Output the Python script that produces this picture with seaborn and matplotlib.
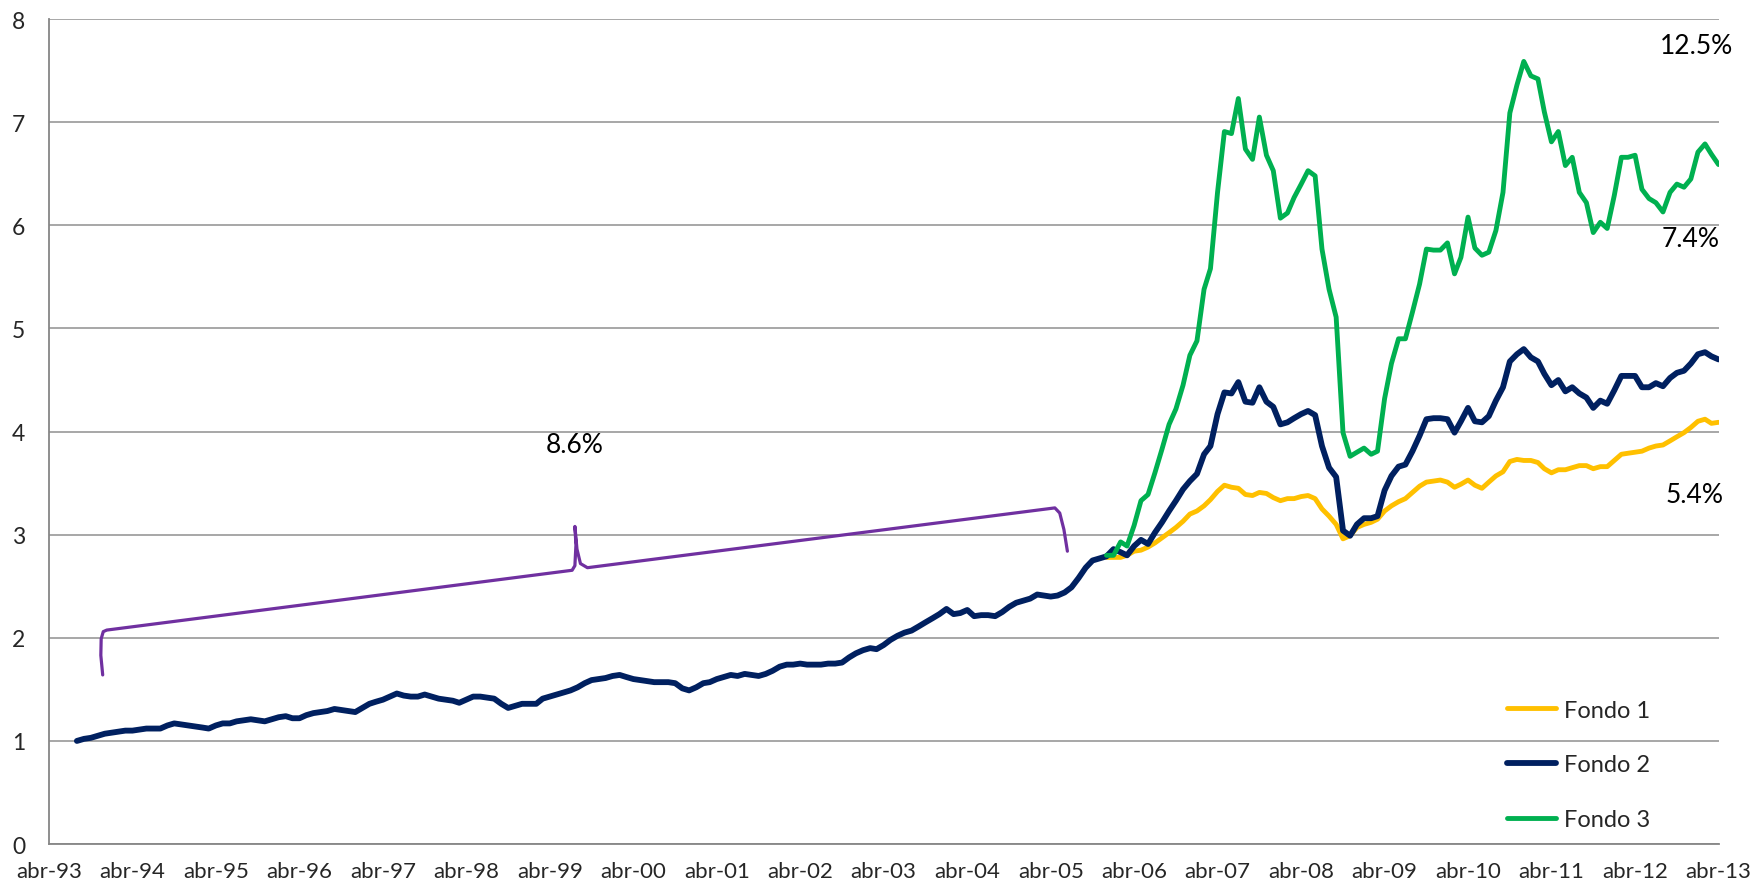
import pandas as pd
import matplotlib
matplotlib.use("Agg")
import matplotlib.pyplot as plt
import matplotlib.dates as mdates
import seaborn as sns

# ================================
# DATA (monthly)
# ================================
axis_start = "1993-04-01"          # abr-93, left edge of the chart

fondo2_start = "1993-08-01"
fondo2 = [
    1.00, 1.02, 1.03, 1.05, 1.07,                                            # 1993
    1.08, 1.09, 1.10, 1.10, 1.11, 1.12, 1.12, 1.12, 1.15, 1.17, 1.16, 1.15,  # 1994
    1.14, 1.13, 1.12, 1.15, 1.17, 1.17, 1.19, 1.20, 1.21, 1.20, 1.19, 1.21,  # 1995
    1.23, 1.24, 1.22, 1.22, 1.25, 1.27, 1.28, 1.29, 1.31, 1.30, 1.29, 1.28,  # 1996
    1.32, 1.36, 1.38, 1.40, 1.43, 1.46, 1.44, 1.43, 1.43, 1.45, 1.43, 1.41,  # 1997
    1.40, 1.39, 1.37, 1.40, 1.43, 1.43, 1.42, 1.41, 1.36, 1.32, 1.34, 1.36,  # 1998
    1.36, 1.36, 1.41, 1.43, 1.45, 1.47, 1.49, 1.52, 1.56, 1.59, 1.60, 1.61,  # 1999
    1.63, 1.64, 1.62, 1.60, 1.59, 1.58, 1.57, 1.57, 1.57, 1.56, 1.51, 1.49,  # 2000
    1.52, 1.56, 1.57, 1.60, 1.62, 1.64, 1.63, 1.65, 1.64, 1.63, 1.65, 1.68,  # 2001
    1.72, 1.74, 1.74, 1.75, 1.74, 1.74, 1.74, 1.75, 1.75, 1.76, 1.81, 1.85,  # 2002
    1.88, 1.90, 1.89, 1.93, 1.98, 2.02, 2.05, 2.07, 2.11, 2.15, 2.19, 2.23,  # 2003
    2.28, 2.23, 2.24, 2.27, 2.21, 2.22, 2.22, 2.21, 2.25, 2.30, 2.34, 2.36,  # 2004
    2.38, 2.42, 2.41, 2.40, 2.41, 2.44, 2.49, 2.58, 2.68, 2.75, 2.77, 2.79,  # 2005
    2.86, 2.83, 2.80, 2.89, 2.95, 2.91, 3.02, 3.12, 3.23, 3.33, 3.44, 3.52,  # 2006
    3.59, 3.78, 3.86, 4.17, 4.38, 4.37, 4.48, 4.29, 4.28, 4.43, 4.29, 4.24,  # 2007
    4.07, 4.09, 4.13, 4.17, 4.20, 4.16, 3.86, 3.65, 3.56, 3.04, 2.99, 3.10,  # 2008
    3.16, 3.16, 3.18, 3.43, 3.57, 3.66, 3.68, 3.81, 3.96, 4.12, 4.13, 4.13,  # 2009
    4.12, 3.99, 4.10, 4.23, 4.10, 4.09, 4.15, 4.30, 4.43, 4.68, 4.75, 4.80,  # 2010
    4.72, 4.68, 4.56, 4.45, 4.50, 4.39, 4.43, 4.37, 4.33, 4.23, 4.30, 4.27,  # 2011
    4.40, 4.54, 4.54, 4.54, 4.43, 4.43, 4.47, 4.44, 4.52, 4.57, 4.59, 4.66,  # 2012
    4.75, 4.77, 4.73, 4.70,                                                  # 2013
]

fondo13_start = "2005-12-01"
fondo1 = [
    2.78,                                                                    # 2005
    2.78, 2.78, 2.80, 2.84, 2.85, 2.88, 2.92, 2.97, 3.02, 3.07, 3.13, 3.20,  # 2006
    3.23, 3.28, 3.34, 3.42, 3.48, 3.46, 3.45, 3.39, 3.38, 3.41, 3.40, 3.36,  # 2007
    3.33, 3.35, 3.35, 3.37, 3.38, 3.35, 3.25, 3.18, 3.10, 2.96, 2.99, 3.07,  # 2008
    3.10, 3.12, 3.15, 3.23, 3.28, 3.32, 3.35, 3.41, 3.47, 3.51, 3.52, 3.53,  # 2009
    3.51, 3.46, 3.49, 3.53, 3.48, 3.45, 3.51, 3.57, 3.61, 3.71, 3.73, 3.72,  # 2010
    3.72, 3.70, 3.64, 3.60, 3.63, 3.63, 3.65, 3.67, 3.67, 3.64, 3.66, 3.66,  # 2011
    3.72, 3.78, 3.79, 3.80, 3.81, 3.84, 3.86, 3.87, 3.91, 3.95, 3.99, 4.04,  # 2012
    4.10, 4.12, 4.08, 4.09,                                                  # 2013
]
fondo3 = [
    2.80,                                                                    # 2005
    2.80, 2.93, 2.89, 3.09, 3.33, 3.39, 3.60, 3.83, 4.07, 4.22, 4.45, 4.74,  # 2006
    4.88, 5.38, 5.58, 6.32, 6.91, 6.89, 7.23, 6.74, 6.64, 7.05, 6.68, 6.53,  # 2007
    6.07, 6.12, 6.27, 6.40, 6.53, 6.48, 5.77, 5.38, 5.11, 3.99, 3.76, 3.80,  # 2008
    3.84, 3.78, 3.81, 4.32, 4.66, 4.90, 4.90, 5.16, 5.43, 5.77, 5.76, 5.76,  # 2009
    5.83, 5.53, 5.69, 6.08, 5.78, 5.71, 5.74, 5.95, 6.32, 7.09, 7.36, 7.59,  # 2010
    7.45, 7.42, 7.10, 6.81, 6.91, 6.58, 6.66, 6.32, 6.22, 5.93, 6.03, 5.97,  # 2011
    6.29, 6.66, 6.66, 6.68, 6.35, 6.26, 6.22, 6.13, 6.32, 6.40, 6.37, 6.45,  # 2012
    6.71, 6.79, 6.69, 6.59,                                                  # 2013
]

series_names = ["Fondo 1", "Fondo 2", "Fondo 3"]
series_colors = ["#FFC000", "#002060", "#00B050"]
series_widths = [3.5, 4.2, 3.5]

# annualised returns written on the chart (months counted from abr-93)
pct_labels = ["8.6%", "12.5%", "7.4%", "5.4%"]
pct_months = [75.6, 236.9, 236.0, 236.6]
pct_values = [3.87, 7.74, 5.87, 3.39]

# purple brace over the single-fund period
brace_months = [7.72, 7.45, 7.5, 7.8, 8.3, 75.2, 75.6, 75.75, 75.6,
                75.9, 76.4, 77.4, 144.6, 145.3, 145.9, 146.4]
brace_values = [1.64, 1.83, 1.99, 2.06, 2.075, 2.655, 2.70, 2.90, 3.08,
                2.86, 2.72, 2.68, 3.26, 3.21, 3.05, 2.84]

tick_years = list(range(1993, 2014))
y_ticks = list(range(0, 9))


def month_to_num(m):
    # month offset from abr-93 -> matplotlib date number
    return mdates.date2num(pd.Timestamp(axis_start)) + m * 30.4375


# ================================
# PLOT
# ================================
sns.set_style("white")
plt.rcParams["font.family"] = ["Lato", "DejaVu Sans"]

fig = plt.figure(figsize=(17.5, 8.87), dpi=100)
ax = fig.add_axes([0.028, 0.0473, 0.954, 0.930])

frames = []
for name, vals, start in [("Fondo 1", fondo1, fondo13_start),
                          ("Fondo 2", fondo2, fondo2_start),
                          ("Fondo 3", fondo3, fondo13_start)]:
    frames.append(pd.DataFrame({
        "fecha": pd.date_range(start, periods=len(vals), freq="MS"),
        "valor": vals,
        "serie": name,
    }))
df = pd.concat(frames, ignore_index=True)

for name, color, lw in zip(series_names, series_colors, series_widths):
    sns.lineplot(data=df[df["serie"] == name], x="fecha", y="valor",
                 color=color, linewidth=lw, label=name, ax=ax,
                 solid_joinstyle="round", solid_capstyle="round")

# brace annotation
ax.plot([month_to_num(m) for m in brace_months], brace_values,
        color="#7030A0", linewidth=2.3, solid_joinstyle="round")

for txt, m, v in zip(pct_labels, pct_months, pct_values):
    ax.text(month_to_num(m), v, txt, ha="center", va="center",
            fontsize=19, color="black")

# axes styling
ax.set_xlim(pd.Timestamp(axis_start), pd.Timestamp("2013-04-01"))
ax.set_ylim(0, 8)
ax.set_yticks(y_ticks)
ax.set_yticklabels([str(t) for t in y_ticks])
ax.set_xticks([pd.Timestamp(f"{y}-04-01") for y in tick_years])
ax.set_xticklabels([f"abr-{y % 100:02d}" for y in tick_years])
ax.tick_params(axis="y", length=0, pad=17, labelsize=16.5)
ax.tick_params(axis="x", length=0, pad=12, labelsize=16)
ax.set_xlabel("")
ax.set_ylabel("")

ax.yaxis.grid(True, color="#A0A0A0", linewidth=1.3)
ax.xaxis.grid(False)
ax.set_axisbelow(True)
for side in ["top", "right"]:
    ax.spines[side].set_visible(False)
for side in ["left", "bottom"]:
    ax.spines[side].set_color("#868686")
    ax.spines[side].set_linewidth(1.3)

ax.legend(loc="upper left", bbox_to_anchor=(0.861, 0.210),
          bbox_transform=fig.transFigure, frameon=False, fontsize=17,
          handlelength=2.1, handletextpad=0.33, labelspacing=1.42,
          borderpad=0, borderaxespad=0)

fig.savefig("out.png", dpi=100)
